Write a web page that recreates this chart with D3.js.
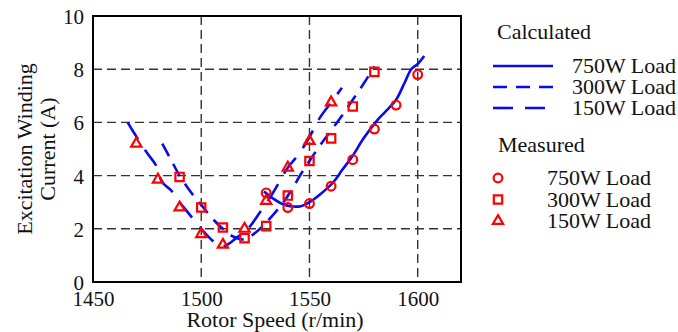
<!DOCTYPE html>
<html>
<head>
<meta charset="utf-8">
<script src="https://cdn.jsdelivr.net/npm/d3@7"></script>
<style>
  body { margin: 0; background: #fff; }
  svg text { font-family: "Liberation Serif", Tinos, "Times New Roman", "DejaVu Serif", serif !important; fill: #111; }
</style>
</head>
<body>
<svg width="678" height="332"></svg>
<script>
var svg = d3.select("svg");

var margin = {left: 93, top: 16, right: 217, bottom: 50},
    width = 678 - margin.left - margin.right,
    height = 332 - margin.top - margin.bottom;

var serif = "'Liberation Serif', Tinos, 'Times New Roman', 'DejaVu Serif', serif";

// calculated curves (rotor speed, current)
var calc750 = [[1529,3.4],[1533,3.15],[1537,2.95],[1541,2.85],[1546,2.85],[1550,3.0],[1555,3.3],[1561,3.75],[1565,4.2],[1570,4.75],[1575,5.4],[1581,6.05],[1585,6.4],[1590,6.85],[1594,7.5],[1597,8.0],[1600,8.2],[1603,8.5]];
var calc300 = [[1482,5.2],[1486,4.6],[1490,4.0],[1495,3.4],[1500,2.9],[1505,2.4],[1510,2.0],[1515,1.7],[1520,1.6],[1525,1.85],[1529,2.15],[1534,2.6],[1538,3.0],[1542,3.5],[1546,4.05],[1550,4.55],[1555,5.15],[1560,5.7],[1565,6.25],[1570,6.85],[1575,7.45],[1580,8.1]];
var calc150 = [[1466,6.0],[1469,5.6],[1475,4.85],[1479,4.4],[1482,3.75],[1486,3.45],[1490,3.0],[1494,2.6],[1499,2.1],[1504,1.65],[1509,1.33],[1513,1.45],[1516,1.65],[1521,1.95],[1527,2.6],[1532,3.2],[1536,3.75],[1540,4.3],[1545,4.8],[1550,5.45],[1555,6.2],[1560,6.75],[1565,7.3]];

// measured points
var meas750 = [[1530,3.35],[1540,2.8],[1550,2.95],[1560,3.6],[1570,4.6],[1580,5.75],[1590,6.65],[1600,7.8]];
var meas300 = [[1490,3.95],[1500,2.8],[1510,2.05],[1520,1.65],[1530,2.1],[1540,3.25],[1550,4.55],[1560,5.4],[1570,6.6],[1580,7.9]];
var meas150 = [[1470,5.2],[1480,3.85],[1490,2.8],[1500,1.8],[1510,1.4],[1520,2.0],[1530,3.05],[1540,4.3],[1550,5.3],[1560,6.75]];

var xTicks = [1450, 1500, 1550, 1600];
var yTicks = [0, 2, 4, 6, 8, 10];
var loads = ["750W Load", "300W Load", "150W Load"];
var dashes = [null, "14,9", "20,12"];

var x = d3.scaleLinear().domain([1450, 1620]).range([0, width]);
var y = d3.scaleLinear().domain([0, 10]).range([height, 0]);

var g = svg.append("g")
    .attr("transform", "translate(" + margin.left + "," + margin.top + ")");

// grid
g.selectAll(".vgrid")
    .data(xTicks.slice(1))
    .enter().append("line")
    .attr("x1", d => x(d)).attr("x2", d => x(d))
    .attr("y1", 0).attr("y2", height)
    .attr("stroke", "#333").attr("stroke-width", 1.4)
    .attr("stroke-dasharray", "9,5");
g.selectAll(".hgrid")
    .data(yTicks.slice(1, -1))
    .enter().append("line")
    .attr("x1", 0).attr("x2", width)
    .attr("y1", d => y(d)).attr("y2", d => y(d))
    .attr("stroke", "#333").attr("stroke-width", 1.4)
    .attr("stroke-dasharray", "9,5");

// axes
var xAxis = d3.axisBottom(x).tickValues(xTicks).tickFormat(d3.format("d")).tickSize(0).tickPadding(8);
var yAxis = d3.axisLeft(y).tickValues(yTicks).tickFormat(d3.format("d")).tickSize(0).tickPadding(9);

var gx = g.append("g").attr("transform", "translate(0," + height + ")").call(xAxis);
var gy = g.append("g").call(yAxis);
[gx, gy].forEach(function(a) {
  a.attr("font-family", serif).attr("font-size", 21);
  a.select(".domain").remove();
  a.selectAll("text").attr("fill", "#111");
});
gx.selectAll("text").attr("dy", "0.75em");
gy.selectAll("text").attr("dy", "0.36em");

g.append("rect")
    .attr("width", width).attr("height", height)
    .attr("fill", "none").attr("stroke", "#000").attr("stroke-width", 2);

// calculated curves
var line = d3.line()
    .x(d => x(d[0])).y(d => y(d[1]))
    .curve(d3.curveCatmullRom);

[calc750, calc300, calc150].forEach(function(s, i) {
  g.append("path")
    .datum(s)
    .attr("d", line)
    .attr("fill", "none")
    .attr("stroke", "#0a0af0")
    .attr("stroke-width", 2.6)
    .attr("stroke-dasharray", dashes[i]);
});

// measured markers
var symbols = [d3.symbolCircle, d3.symbolSquare, d3.symbolTriangle];
var sizes = [60, 70, 45];
[meas750, meas300, meas150].forEach(function(s, i) {
  g.selectAll(".m" + i)
    .data(s)
    .enter().append("path")
    .attr("d", d3.symbol().type(symbols[i]).size(sizes[i]))
    .attr("transform", d => "translate(" + x(d[0]) + "," + y(d[1]) + ")")
    .attr("fill", "none")
    .attr("stroke", "#ff0000")
    .attr("stroke-width", 2.2);
});

// axis titles
svg.append("text")
    .attr("x", margin.left + width / 2 - 2).attr("y", 327)
    .attr("text-anchor", "middle")
    .attr("font-family", serif).attr("font-size", 22)
    .text("Rotor Speed (r/min)");

var yl = svg.append("text")
    .attr("transform", "translate(32," + (margin.top + height / 2) + ") rotate(-90)")
    .attr("text-anchor", "middle")
    .attr("font-family", serif).attr("font-size", 22);
yl.append("tspan").attr("x", 0).attr("dy", 0).text("Excitation Winding");
yl.append("tspan").attr("x", 0).attr("dy", 23).text("Current (A)");

// legend
var leg = svg.append("g").attr("font-family", serif).attr("font-size", 22);
leg.append("text").attr("x", 497).attr("y", 39).text("Calculated");
loads.forEach(function(t, i) {
  var ly = 66 + i * 21;
  leg.append("line")
    .attr("x1", 493).attr("x2", 553).attr("y1", ly).attr("y2", ly)
    .attr("stroke", "#0a0af0").attr("stroke-width", 2.6)
    .attr("stroke-dasharray", dashes[i]);
  leg.append("text").attr("x", 572).attr("y", ly + 7).text(t);
});
leg.append("text").attr("x", 498).attr("y", 152).text("Measured");
loads.forEach(function(t, i) {
  var ly = 178 + i * 21.5;
  leg.append("path")
    .attr("d", d3.symbol().type(symbols[i]).size(sizes[i]))
    .attr("transform", "translate(498," + ly + ")")
    .attr("fill", "none").attr("stroke", "#ff0000").attr("stroke-width", 2.2);
  leg.append("text").attr("x", 547).attr("y", ly + 7).text(t);
});
</script>
</body>
</html>
